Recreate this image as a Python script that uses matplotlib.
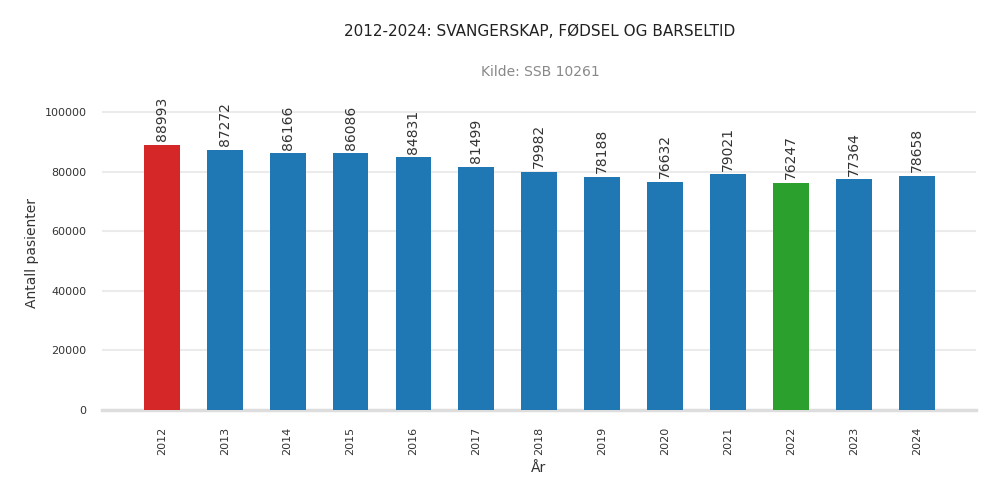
import matplotlib
matplotlib.use("Agg")
import matplotlib.pyplot as plt
import numpy as np

# data
years = ['2012', '2013', '2014', '2015', '2016', '2017', '2018', '2019', '2020', '2021', '2022', '2023', '2024']
patients = [88993, 87272, 86166, 86086, 84831, 81499, 79982, 78188, 76632, 79021, 76247, 77364, 78658]

colors = ['#1f77b4'] * len(years)
colors[int(np.argmax(patients))] = '#d62728'
colors[int(np.argmin(patients))] = '#2ca02c'

fig = plt.figure(figsize=(10, 5), dpi=100)
ax = fig.add_axes([0.102, 0.18, 0.874, 0.626])

x = np.arange(len(years))
ax.bar(x, patients, width=0.57, color=colors, zorder=3)
for xi, v in zip(x, patients):
    ax.text(xi, v + 1200, str(v), rotation=90, ha='center', va='bottom',
            fontsize=10, color='#333333', zorder=4)

ax.set_xlim(-0.95, len(years) - 0.06)
ax.set_ylim(0, 105000)
ax.set_yticks([0, 20000, 40000, 60000, 80000, 100000])
ax.set_xticks(x)
ax.set_xticklabels(years, rotation=90, fontsize=8, color='#333333')
ax.tick_params(axis='y', labelsize=8, colors='#333333', length=0, pad=11)
ax.tick_params(axis='x', length=0, pad=12)
ax.yaxis.grid(True, color='#ebebeb', linewidth=1.5, zorder=0)
for s in ['top', 'right', 'left']:
    ax.spines[s].set_visible(False)
ax.spines['bottom'].set_color('#dddddd')
ax.spines['bottom'].set_linewidth(2.5)

ax.set_xlabel('År', fontsize=10, color='#333333', labelpad=4)
ax.set_ylabel('Antall pasienter', fontsize=10, color='#333333', labelpad=4)

fig.text(0.54, 0.938, '2012-2024: SVANGERSKAP, FØDSEL OG BARSELTID',
         ha='center', va='center', fontsize=11, color='#222222')
fig.text(0.54, 0.855, 'Kilde: SSB 10261', ha='center', va='center',
         fontsize=10, color='#888888')

fig.savefig('out.png', dpi=100)
